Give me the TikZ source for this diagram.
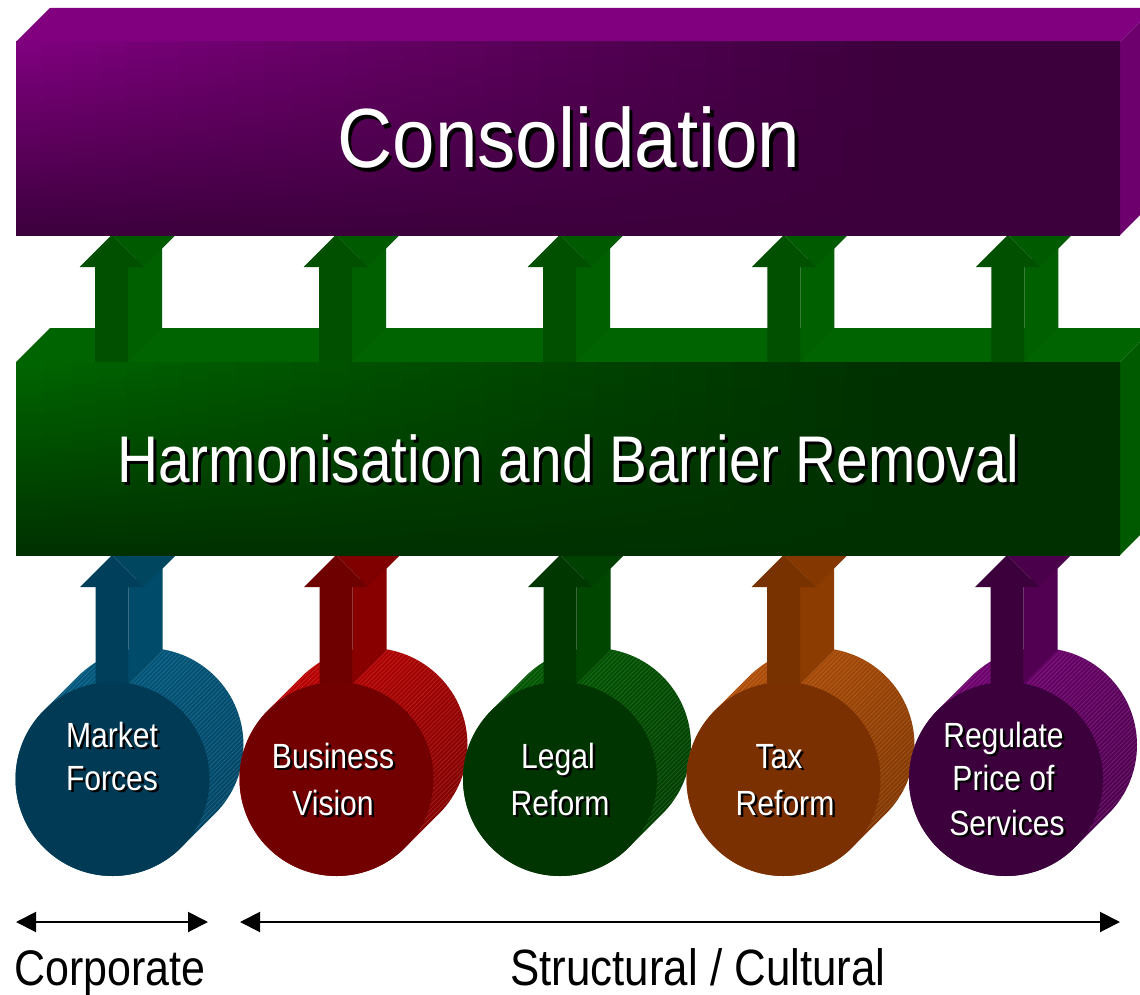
\documentclass[tikz,border=0pt]{standalone}
\usepackage{fontspec}
\setmainfont[FakeStretch=0.86]{Liberation Sans}
\newfontfamily\titlefont[FakeStretch=0.91]{Liberation Sans}
\usetikzlibrary{arrows.meta}

% box colours
\definecolor{consBright}{HTML}{800080}
\definecolor{consDark}{HTML}{3C003C}
\definecolor{consTop}{HTML}{800080}
\definecolor{consSide}{HTML}{6E006E}
\definecolor{harmBright}{HTML}{006600}
\definecolor{harmDark}{HTML}{003000}
\definecolor{harmTop}{HTML}{006400}
\definecolor{harmSide}{HTML}{005A00}
% upper arrows
\definecolor{upFront}{HTML}{005000}
\definecolor{upSide}{HTML}{006000}
\definecolor{upSlant}{HTML}{005A00}
% drivers: front, arrow front, arrow side, arrow slant, side light, side dark
\definecolor{bluFront}{HTML}{003A54}\definecolor{bluAF}{HTML}{003F5C}\definecolor{bluAS}{HTML}{004B6A}\definecolor{bluAH}{HTML}{00465F}\definecolor{bluL}{HTML}{005A80}\definecolor{bluD}{HTML}{004464}
\definecolor{redFront}{HTML}{730000}\definecolor{redAF}{HTML}{6E0000}\definecolor{redAS}{HTML}{880000}\definecolor{redAH}{HTML}{800000}\definecolor{redL}{HTML}{C00000}\definecolor{redD}{HTML}{7E0000}
\definecolor{grnFront}{HTML}{003400}\definecolor{grnAF}{HTML}{003700}\definecolor{grnAS}{HTML}{004600}\definecolor{grnAH}{HTML}{004000}\definecolor{grnL}{HTML}{005A00}\definecolor{grnD}{HTML}{003C00}
\definecolor{orgFront}{HTML}{7A3000}\definecolor{orgAF}{HTML}{783200}\definecolor{orgAS}{HTML}{8C3C00}\definecolor{orgAH}{HTML}{843800}\definecolor{orgL}{HTML}{B45008}\definecolor{orgD}{HTML}{7E3500}
\definecolor{purFront}{HTML}{3C003C}\definecolor{purAF}{HTML}{3C003C}\definecolor{purAS}{HTML}{520052}\definecolor{purAH}{HTML}{4A004A}\definecolor{purL}{HTML}{720072}\definecolor{purD}{HTML}{4C004C}

% extruded block arrow: centre x, tip y, bottom y, front, shaft side, head side
\newcommand{\blockarrow}[6]{%
  \fill[#5] (#1+16.5,#3) -- (#1+16.5,#2+32) -- (#1+50.5,#2-2) -- (#1+50.5,#3-34) -- cycle;
  \fill[#6] (#1+32,#2+32) -- (#1,#2) -- (#1+34,#2-34) -- (#1+66,#2-2) -- cycle;
  \fill[#4] (#1-16.5,#3) -- (#1-16.5,#2+32) -- (#1-32,#2+32) -- (#1,#2)
            -- (#1+32,#2+32) -- (#1+16.5,#2+32) -- (#1+16.5,#3) -- cycle;
}

% outline of a drum seen from the front: both end discs and the band between them
\newcommand{\hullpath}[1]{%
  (#1+68.59,847.59) -- (#1+102.59,813.59)
  arc[start angle=45, end angle=-135, radius=97]
  -- (#1-68.59,710.41)
  arc[start angle=225, end angle=45, radius=97] -- cycle}

% drum body with fine ruling: centre x, side light, side dark
\newcommand{\drum}[3]{%
  \shade[top color=#2, bottom color=#3, shading angle=45] \hullpath{#1};
  \begin{scope}
    \clip \hullpath{#1};
    \foreach \s in {-160,-157.8,...,160}{%
      \draw[white, opacity=0.13, line width=0.8pt]
        (#1+17+\s-160,762+\s+160) -- (#1+17+\s+160,762+\s-160);
    }
  \end{scope}
}
\newcommand{\drumface}[3]{%
  \node[circle, fill=#3, minimum size=194pt, inner sep=0pt] (#1) at (#2,779) {};
}

% white lettering with a black drop shadow
\newcommand{\shadowed}[2]{\rlap{\kern#1pt\raisebox{-#1pt}{\color{black}#2}}#2}

% 3-D slab: y top, y bottom, bright, dark, top face, side face
\newcommand{\slab}[6]{%
  \fill[#5] (16,#1) -- (50,#1-34) -- (1154,#1-34) -- (1120,#1) -- cycle;
  \fill[#6] (1120,#1) -- (1154,#1-34) -- (1154,#2-34) -- (1120,#2) -- cycle;
  \foreach \i in {0,...,39}{%
    \pgfmathsetmacro\xa{16+\i*27.6}%
    \pgfmathsetmacro\xb{min(\xa+28.6,1120)}%
    \pgfmathtruncatemacro\p{max(0,100*(1-(\xa+13.8-16)/880))}%
    \shade[top color=#3!\p!#4, bottom color=#4] (\xa,#1) rectangle (\xb,#2);
  }
}

\begin{document}
\begin{tikzpicture}[x=1pt, y=-1pt,
  span/.style={line width=2pt, {Triangle[length=20pt, width=20pt]}-{Triangle[length=20pt, width=20pt]}},
  caption/.style={anchor=base, inner sep=0pt, text=black, font=\fontsize{51}{51}\selectfont},
  label/.style={anchor=base, inner sep=0pt, text=white, font=\fontsize{35}{35}\selectfont}]
\clip (0,0) rectangle (1140,995);
\fill[white] (0,0) rectangle (1140,995);

% driver drums with their arrows
\drum{112.5}{bluL}{bluD}
\blockarrow{112}{555}{684}{bluAF}{bluAS}{bluAH}
\drumface{mf}{112.5}{bluFront}

\drum{336.5}{redL}{redD}
\blockarrow{336}{555}{684}{redAF}{redAS}{redAH}
\drumface{bv}{336.5}{redFront}

\drum{560}{grnL}{grnD}
\blockarrow{560}{555}{684}{grnAF}{grnAS}{grnAH}
\drumface{lr}{560}{grnFront}

\drum{783.5}{orgL}{orgD}
\blockarrow{783.5}{555}{684}{orgAF}{orgAS}{orgAH}
\drumface{tr}{783.5}{orgFront}

\drum{1006}{purL}{purD}
\blockarrow{1007}{555}{684}{purAF}{purAS}{purAH}
\drumface{rp}{1006}{purFront}

% middle slab
\slab{362}{555}{harmBright}{harmDark}{harmTop}{harmSide}
\node[label, font=\fontsize{66}{66}\selectfont] (harm) at (568.5,482)
  {\shadowed{3}{Harmonisation and Barrier Removal}};

% arrows into the top slab
\foreach \cx in {111.5,335.6,559.7,783.8,1007.9}{
  \blockarrow{\cx}{235}{362}{upFront}{upSide}{upSlant}
}

% top slab
\slab{42}{235}{consBright}{consDark}{consTop}{consSide}
\node[label, font=\titlefont\fontsize{84}{84}\selectfont] (cons) at (569,168)
  {\shadowed{3.5}{Consolidation}};

% driver labels
\node[label] (mf1) at (112,747) {\shadowed{2.5}{Market}};
\node[label] (mf2) at (112,790) {\shadowed{2.5}{Forces}};
\node[label] (bv1) at (333,768) {\shadowed{2.5}{Business}};
\node[label] (bv2) at (333,815) {\shadowed{2.5}{Vision}};
\node[label] (lr1) at (558,768) {\shadowed{2.5}{Legal}};
\node[label] (lr2) at (560,815) {\shadowed{2.5}{Reform}};
\node[label] (tr1) at (779,768) {\shadowed{2.5}{Tax}};
\node[label] (tr2) at (785,815) {\shadowed{2.5}{Reform}};
\node[label] (rp1) at (1003.5,747) {\shadowed{2.5}{Regulate}};
\node[label] (rp2) at (1003.5,790) {\shadowed{2.5}{Price of}};
\node[label] (rp3) at (1007,835) {\shadowed{2.5}{Services}};

% scope arrows and captions
\coordinate (corpL) at (16,922);
\coordinate (corpR) at (208,922);
\coordinate (structL) at (240,922);
\coordinate (structR) at (1120,922);
\draw[span] (corpL) -- (corpR);
\draw[span] (structL) -- (structR);
\node[caption, anchor=base west, font=\fontsize{50}{50}\selectfont] (corp) at (14,985) {Corporate};
\node[caption] (struct) at (698,985) {Structural / Cultural};
\end{tikzpicture}
\end{document}
